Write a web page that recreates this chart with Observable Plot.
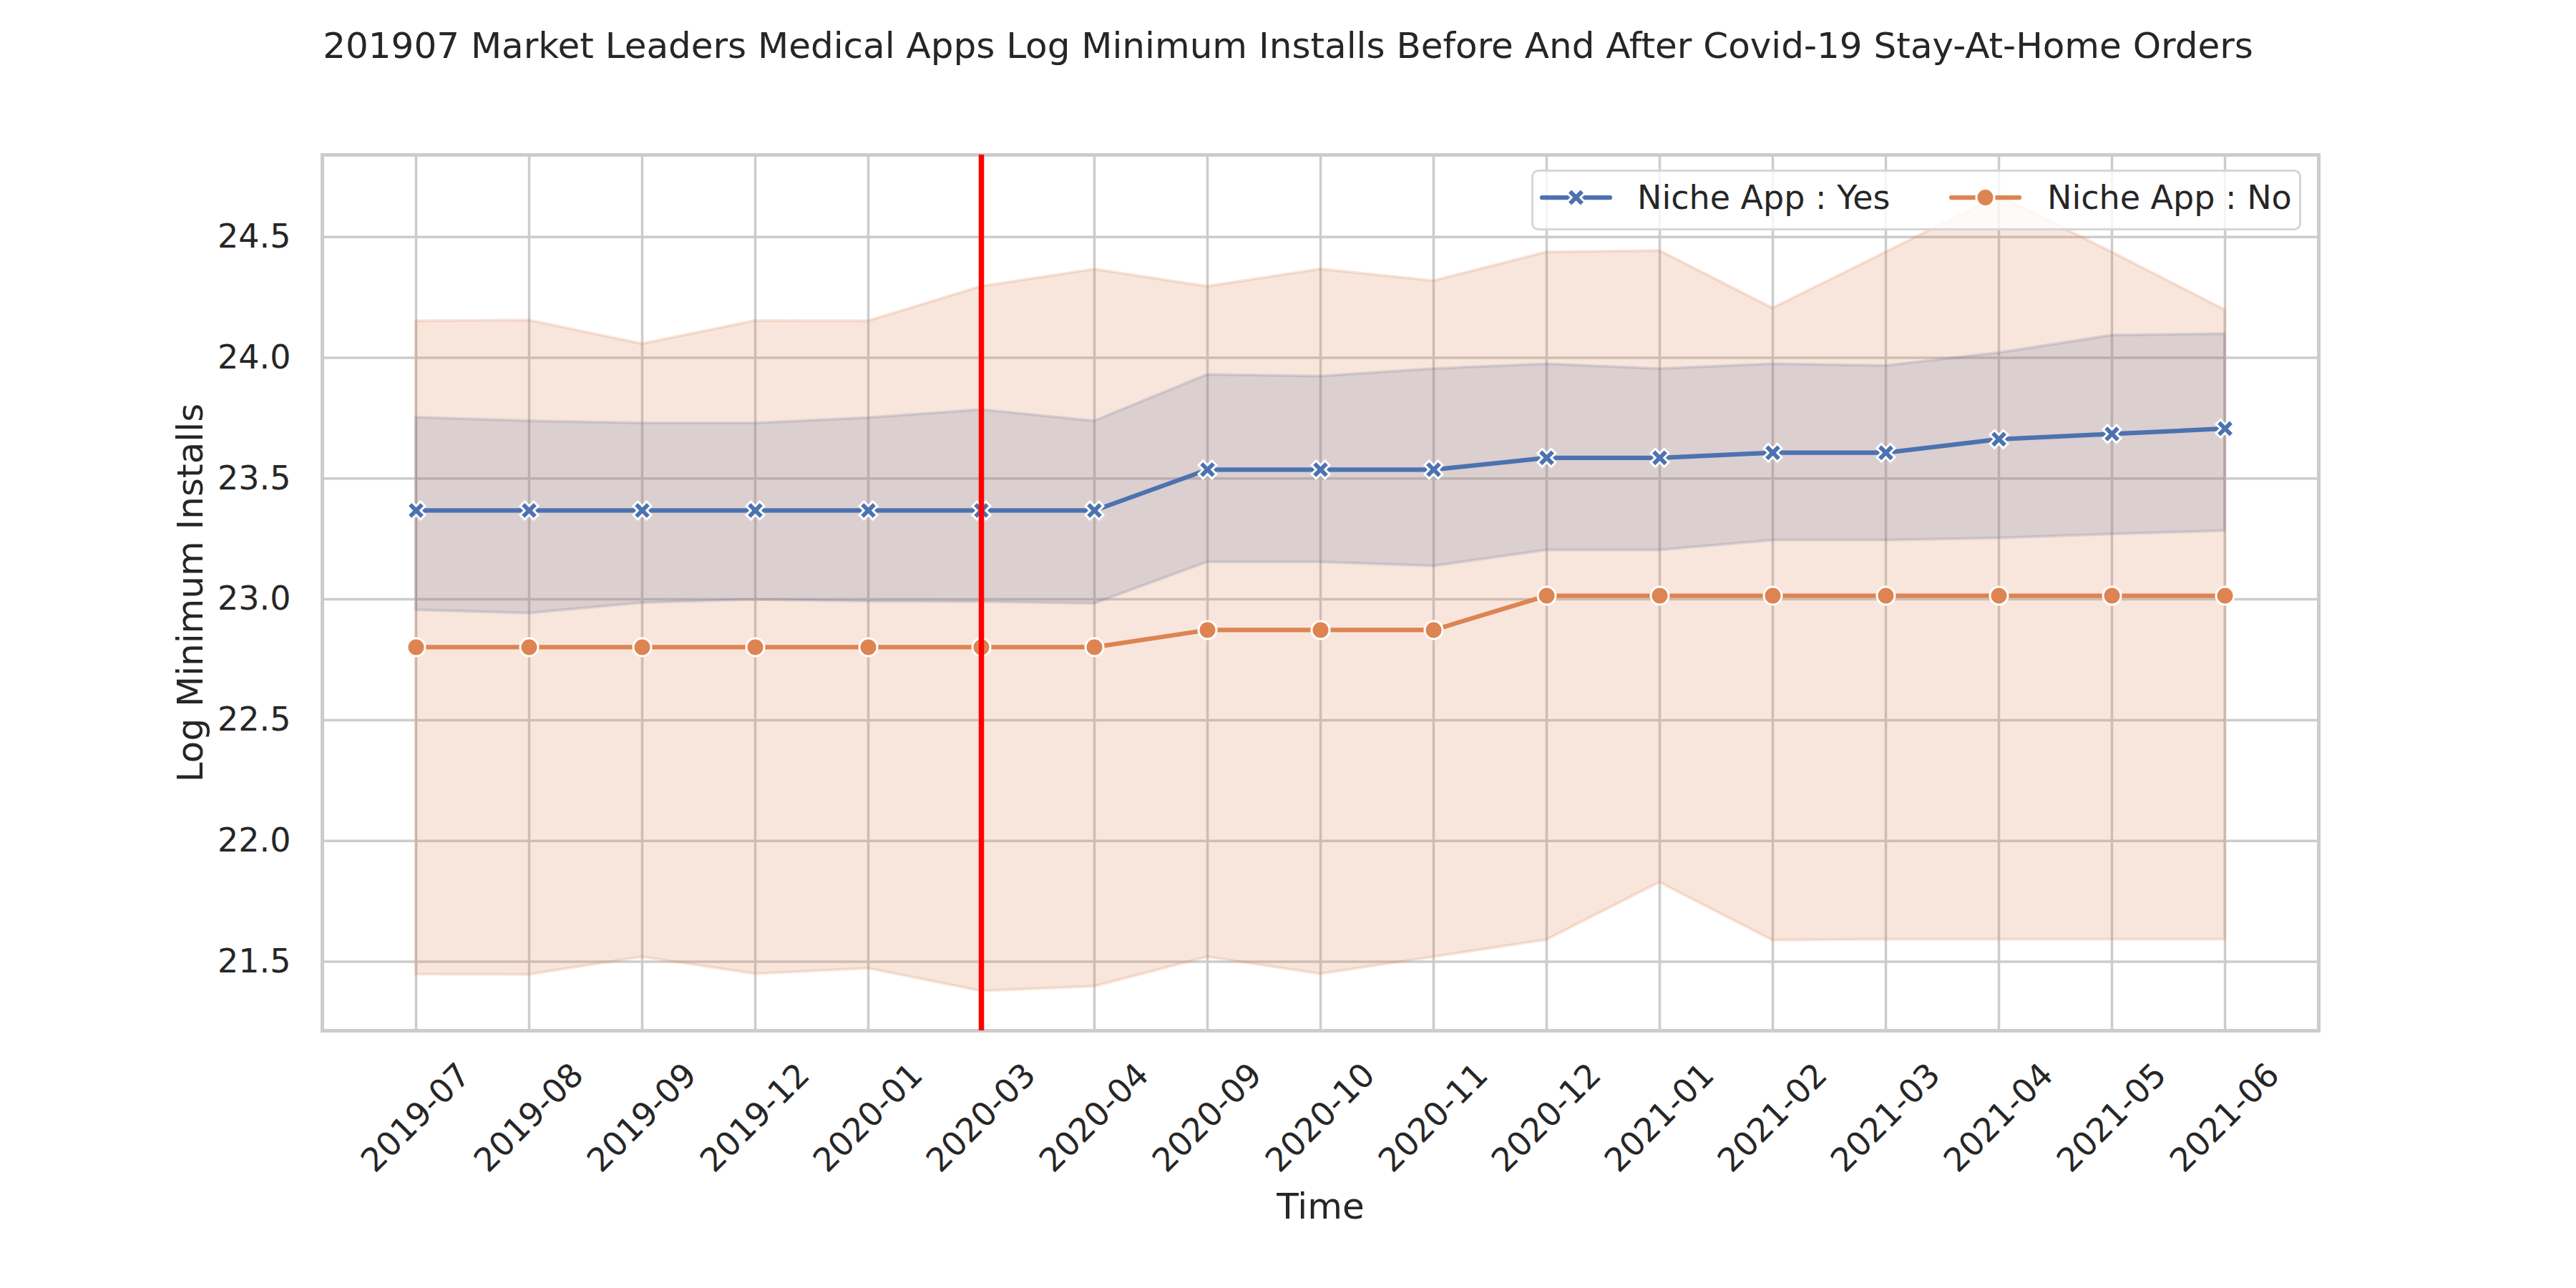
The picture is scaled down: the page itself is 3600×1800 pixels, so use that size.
<!DOCTYPE html>
<html>
<head>
<meta charset="utf-8">
<script src="https://cdn.jsdelivr.net/npm/d3@7"></script>
<script src="https://cdn.jsdelivr.net/npm/@observablehq/plot@0.6"></script>
<style>
  body { margin: 0; background: #fff; font-family: "DejaVu Sans", sans-serif; color: #262626; }
  #wrap { position: relative; width: 3600px; height: 1800px; overflow: hidden; background: #fff; }
  #title { height: 128px; line-height: 128px; text-align: center; font-size: 50px; white-space: nowrap; }
  #legend { position: absolute; left: 2140px; top: 237px; width: 1076px; height: 85px; box-sizing: border-box;
            background: rgba(255,255,255,0.8); border: 3px solid #d6d6d6; border-radius: 10px; }
  #legend svg { position: absolute; left: 0; top: 0; }
</style>
</head>
<body>
<div id="wrap">
  <div id="title">201907 Market Leaders Medical Apps Log Minimum Installs Before And After Covid-19 Stay-At-Home Orders</div>
  <div id="chart"></div>
  <div id="legend"></div>
</div>
<script>
// ---- data ----
const months = ["2019-07","2019-08","2019-09","2019-12","2020-01","2020-03","2020-04","2020-09","2020-10","2020-11","2020-12","2021-01","2021-02","2021-03","2021-04","2021-05","2021-06"];

const yesMean = [23.368,23.368,23.368,23.368,23.368,23.368,23.368,23.537,23.537,23.537,23.586,23.586,23.607,23.607,23.663,23.685,23.707];
const yesLow  = [22.955,22.942,22.985,22.998,22.991,22.989,22.982,23.154,23.154,23.137,23.203,23.203,23.244,23.244,23.253,23.269,23.283];
const yesHigh = [23.753,23.738,23.729,23.729,23.751,23.785,23.738,23.930,23.923,23.954,23.974,23.954,23.974,23.967,24.020,24.093,24.099];

const noMean = [22.802,22.802,22.802,22.802,22.802,22.802,22.802,22.873,22.873,22.873,23.015,23.015,23.015,23.015,23.015,23.015,23.015];
const noLow  = [21.447,21.446,21.519,21.449,21.472,21.378,21.397,21.519,21.449,21.519,21.590,21.828,21.588,21.592,21.592,21.592,21.592];
const noHigh = [24.152,24.155,24.057,24.153,24.152,24.295,24.366,24.295,24.367,24.318,24.437,24.443,24.205,24.437,24.670,24.437,24.198];

const yTicks = [21.5, 22.0, 22.5, 23.0, 23.5, 24.0, 24.5];
const stayAtHome = ["2020-03"];
const seriesNames = ["Niche App : Yes", "Niche App : No"];

// ---- styling ----
const blue = "#4c72b0", orange = "#dd8452", gridColor = "#cccccc", textColor = "#262626";

const yes = months.map((m, i) => ({month: m, mean: yesMean[i], low: yesLow[i], high: yesHigh[i]}));
const no  = months.map((m, i) => ({month: m, mean: noMean[i],  low: noLow[i],  high: noHigh[i]}));

// matplotlib "X" filled marker
const xPts = [[0.25,0],[0.5,0.25],[0.75,0],[1,0.25],[0.75,0.5],[1,0.75],[0.75,1],[0.5,0.75],[0.25,1],[0,0.75],[0.25,0.5],[0,0.25]];
const xFilled = {
  draw(context, size) {
    const r = Math.sqrt(size / Math.PI);
    xPts.forEach(([a, b], i) => {
      const px = (a - 0.5) * 2 * r, py = (b - 0.5) * 2 * r;
      if (i) context.lineTo(px, py); else context.moveTo(px, py);
    });
    context.closePath();
  }
};

const chart = Plot.plot({
  width: 3600,
  height: 1672,
  marginLeft: 450,
  marginRight: 360,
  marginTop: 88,
  marginBottom: 360,
  style: {fontFamily: "DejaVu Sans", color: textColor, background: "white", overflow: "visible"},
  x: {type: "point", domain: months, padding: 0.8},
  y: {domain: [21.214, 24.840]},
  marks: [
    Plot.gridY(yTicks, {stroke: gridColor, strokeOpacity: 1, strokeWidth: 3.5}),
    Plot.gridX(months, {stroke: gridColor, strokeOpacity: 1, strokeWidth: 3.5}),
    Plot.areaY(yes, {x: "month", y1: "low", y2: "high", fill: blue, fillOpacity: 0.2, stroke: blue, strokeOpacity: 0.2, strokeWidth: 4}),
    Plot.areaY(no, {x: "month", y1: "low", y2: "high", fill: orange, fillOpacity: 0.2, stroke: orange, strokeOpacity: 0.2, strokeWidth: 4}),
    Plot.frame({stroke: gridColor, strokeWidth: 5}),
    Plot.line(yes, {x: "month", y: "mean", stroke: blue, strokeWidth: 6.25}),
    Plot.dot(yes, {x: "month", y: "mean", symbol: xFilled, r: 12.5, fill: blue, stroke: "white", strokeWidth: 3}),
    Plot.line(no, {x: "month", y: "mean", stroke: orange, strokeWidth: 6.25}),
    Plot.dot(no, {x: "month", y: "mean", r: 12.5, fill: orange, stroke: "white", strokeWidth: 3}),
    Plot.ruleX(stayAtHome, {stroke: "red", strokeWidth: 7.5, strokeLinecap: "butt"}),
    Plot.axisY(yTicks, {tickSize: 0, tickPadding: 44, fontSize: 46, tickFormat: d => d.toFixed(1), label: null, fill: textColor}),
    Plot.axisX({tickSize: 0, tickRotate: -45, textAnchor: "middle", lineAnchor: "middle", tickPadding: 122, fontSize: 46, label: null, fill: textColor}),
    Plot.text(["Log Minimum Installs"], {frameAnchor: "left", textAnchor: "middle", lineAnchor: "middle", rotate: -90, dx: -184, fontSize: 50, fill: textColor}),
    Plot.text(["Time"], {frameAnchor: "bottom", textAnchor: "middle", lineAnchor: "middle", dy: 246, fontSize: 50, fill: textColor})
  ]
});
document.getElementById("chart").appendChild(chart);

// ---- legend ----
const leg = d3.select("#legend").append("svg").attr("width", 1070).attr("height", 79)
  .style("font-family", "DejaVu Sans").style("font-size", "46px");
const entries = [
  {name: seriesNames[0], color: blue, x0: 12, text: 145, sym: xFilled},
  {name: seriesNames[1], color: orange, x0: 584, text: 718, sym: d3.symbolCircle}
];
entries.forEach(e => {
  const cy = 36;
  leg.append("line").attr("x1", e.x0).attr("x2", e.x0 + 95).attr("y1", cy).attr("y2", cy)
    .attr("stroke", e.color).attr("stroke-width", 6.25).attr("stroke-linecap", "round");
  leg.append("path").attr("d", d3.symbol(e.sym, 12.5 * 12.5 * Math.PI)())
    .attr("transform", `translate(${e.x0 + 47.5},${cy})`)
    .attr("fill", e.color).attr("stroke", "white").attr("stroke-width", 3);
  leg.append("text").attr("x", e.text).attr("y", cy).attr("dy", "0.35em").attr("fill", textColor).text(e.name);
});
</script>
</body>
</html>
